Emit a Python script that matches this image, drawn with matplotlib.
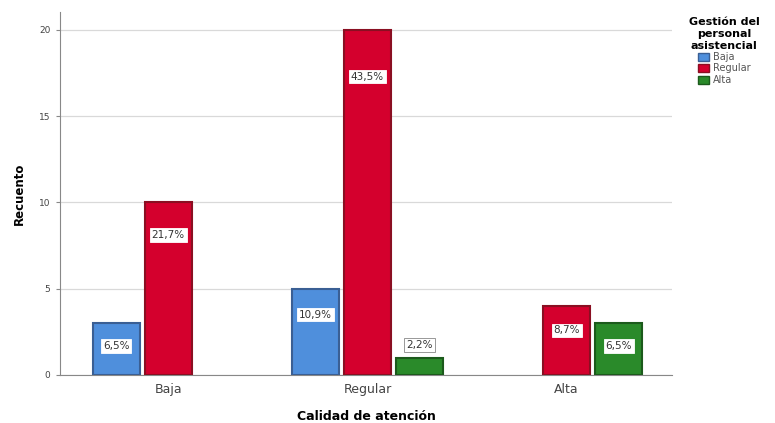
import matplotlib
matplotlib.use("Agg")
import matplotlib.pyplot as plt
import numpy as np
from matplotlib.patches import Patch

categories = ["Baja", "Regular", "Alta"]
series_names = ["Baja", "Regular", "Alta"]
# recuento por serie (Gestión del personal asistencial) en cada categoría
baja_vals = [3, 5, 0]
regular_vals = [10, 20, 4]
alta_vals = [0, 1, 3]
baja_pct = ["6,5%", "10,9%", ""]
regular_pct = ["21,7%", "43,5%", "8,7%"]
alta_pct = ["", "2,2%", "6,5%"]
yticks = [0, 5, 10, 15, 20]

fills = ["#4f8fdc", "#d4002d", "#2a8a2a"]
edges = ["#3a5f94", "#8a0f22", "#1c5a1c"]

fig = plt.figure(figsize=(7.75, 4.23), dpi=100)
ax = fig.add_axes([0.0774, 0.1135, 0.79, 0.858])

x = np.arange(len(categories))
width = 0.236
step = 0.261
all_vals = [baja_vals, regular_vals, alta_vals]
all_pct = [baja_pct, regular_pct, alta_pct]

for i, (vals, pcts) in enumerate(zip(all_vals, all_pct)):
    pos = x + (i - 1) * step
    for xp, v, p in zip(pos, vals, pcts):
        if v == 0:
            continue
        ax.bar(xp, v, width=width, color=fills[i], edgecolor=edges[i], linewidth=1.5, zorder=3)
        # etiqueta dentro de la barra, o encima si la barra es muy baja
        if v < 2:
            ly = v + 0.75
        else:
            ly = v - 1.1 - 0.08 * v
        ax.text(xp, ly, p, ha="center", va="center", fontsize=7.5, color="#333333", zorder=4,
                bbox=dict(boxstyle="square,pad=0.18", fc="white", ec="#888888" if v < 2 else "white", lw=0.6))

ax.set_xlim(-0.543, 2.53)
ax.set_ylim(0, 21.04)
ax.set_yticks(yticks)
ax.set_yticklabels([str(t) for t in yticks], fontsize=6.5, color="#444444")
ax.set_xticks(x)
ax.set_xticklabels(categories, fontsize=9, color="#444444")
ax.tick_params(axis="x", length=0, pad=6)
ax.tick_params(axis="y", length=3, color="#888888", pad=4)
ax.grid(axis="y", color="#d9d9d9", linewidth=0.9, zorder=0)
for s in ["top", "right"]:
    ax.spines[s].set_visible(False)
ax.spines["left"].set_color("#888888")
ax.spines["bottom"].set_color("#888888")

ax.set_xlabel("Calidad de atención", fontsize=9, fontweight="bold", labelpad=10)
ax.set_ylabel("Recuento", fontsize=8.5, fontweight="bold", labelpad=9)

handles = [Patch(facecolor=fills[i], edgecolor=edges[i], label=series_names[i]) for i in range(3)]
leg = fig.legend(handles=handles, title="Gestión del\npersonal\nasistencial", loc="upper left",
                 bbox_to_anchor=(0.88, 0.975), frameon=False, fontsize=7, handlelength=1.1,
                 handleheight=0.9, handletextpad=0.4, labelspacing=0.15, borderpad=0.2)
leg.get_title().set_fontweight("bold")
leg.get_title().set_fontsize(8)
leg.get_title().set_multialignment("center")
for t in leg.get_texts():
    t.set_color("#555555")

fig.savefig("out.png", dpi=100)
